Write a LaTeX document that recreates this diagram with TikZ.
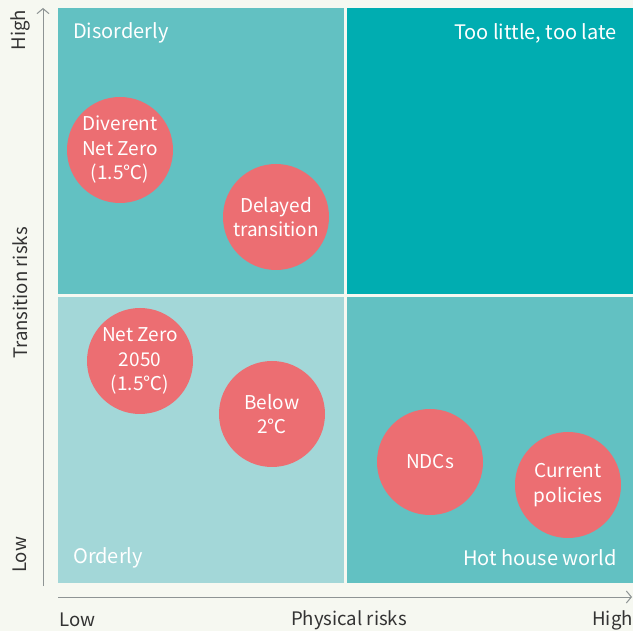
\documentclass[tikz,border=0pt]{standalone}
\usepackage{fontspec}
\setmainfont{Noto Sans CJK JP}
\usetikzlibrary{arrows.meta}
\definecolor{bgc}{HTML}{F6F8F1}
\definecolor{qmid}{HTML}{62C1C2}
\definecolor{qdark}{HTML}{00ADB1}
\definecolor{qlight}{HTML}{A3D7D8}
\definecolor{circ}{HTML}{EC6E72}
\definecolor{axisc}{HTML}{8E9494}
\definecolor{labc}{HTML}{333333}
\begin{document}
\begin{tikzpicture}[x=1pt,y=-1pt,
  quad/.style={draw=none, minimum width=286pt, minimum height=286pt, inner sep=0pt},
  scen/.style={circle, fill=circ, text=white, minimum size=106pt, inner sep=0pt, align=center,
    font=\fontsize{19}{24.5}\selectfont},
  qlab/.style={text=white, inner sep=0pt, font=\fontsize{20}{24}\selectfont},
  axlab/.style={text=labc, inner sep=0pt, font=\fontsize{18.6}{22}\selectfont},
  axisline/.style={draw=axisc, line width=1pt, -{Straight Barb[length=5pt,width=12pt]}}
]
\fill[bgc] (0,0) rectangle (633,631);
\useasboundingbox (0,0) rectangle (633,631);

% quadrants
\node[quad, fill=qmid]   (tl) at (201,151) {};
\node[quad, fill=qdark]  (tr) at (490,151) {};
\node[quad, fill=qlight] (bl) at (201,440) {};
\node[quad, fill=qmid]   (br) at (490,440) {};

% quadrant labels
\node[qlab, anchor=west] (dis) at (73,33) {Disorderly};
\node[qlab, anchor=east] (tll) at (617,33) {Too little, too late};
\node[qlab, anchor=west] (ord) at (73,558) {Orderly};
\node[qlab, anchor=east] (hhw) at (617,558) {Hot house world};

% scenarios
\node[scen] (dnz) at (120,150) {Diverent\\Net Zero\\(1.5℃)};
\node[scen] (del) at (276,217) {Delayed\\transition};
\node[scen] (nz)  at (140,361) {Net Zero\\2050\\(1.5℃)};
\node[scen] (b2)  at (272,414) {Below\\2℃};
\node[scen] (ndc) at (430,462) {NDCs};
\node[scen] (cur) at (568,485) {Current\\policies};

% axes
\coordinate (vs) at (43,586);
\coordinate (ve) at (43,8);
\coordinate (hs) at (58,597);
\coordinate (he) at (632,597);
\draw[axisline] (vs) -- (ve);
\draw[axisline] (hs) -- (he);

% axis labels
\node[axlab, rotate=90] (yhigh) at (20,30) {High};
\node[axlab, rotate=90] (ylow)  at (20,555) {Low};
\node[axlab, rotate=90] (ytit)  at (20,293) {Transition risks};
\node[axlab, anchor=west] (xlow) at (59,620) {Low};
\node[axlab] (xtit) at (349,620) {Physical risks};
\node[axlab, anchor=east] (xhigh) at (633,620) {High};
\end{tikzpicture}
\end{document}
